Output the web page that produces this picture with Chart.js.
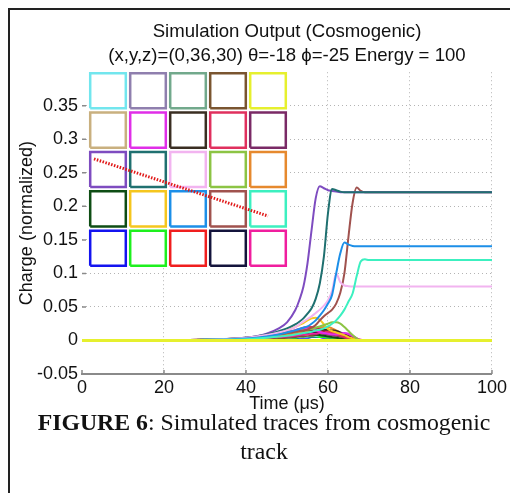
<!DOCTYPE html>
<html>
<head>
<meta charset="utf-8">
<script src="https://cdn.jsdelivr.net/npm/chart.js@4.4.1/dist/chart.umd.min.js"></script>
<style>
  html, body { margin: 0; padding: 0; background: #fff; }
  #page { position: relative; width: 510px; height: 493px; overflow: hidden; background: #fff; }
  #frame { position: absolute; left: 8px; top: 8px; right: -10px; bottom: -10px;
           border-left: 2px solid #222; border-top: 2px solid #222; }
  #main { position: absolute; left: 0; top: 0; }
  #inset { position: absolute; left: 88px; top: 71px; }
  #caption { position: absolute; left: 14px; width: 500px; top: 408px; text-align: center;
             font-family: 'Liberation Serif', 'Times New Roman', serif; font-size: 23.8px;
             line-height: 29px; color: #111; }
</style>
</head>
<body>
<div id="page">
  <div id="frame"></div>
  <canvas id="main" width="510" height="493"></canvas>
  <canvas id="inset" width="200" height="197"></canvas>
  <div id="caption"><b>FIGURE 6</b>: Simulated traces from cosmogenic<br>track</div>
</div>
<script>
// Sample times (µs) shared by every channel trace
const timeUs = [0, 15, 30, 40, 45, 48, 50, 52, 53, 54, 55, 56, 57, 58, 59, 60, 61, 62, 63, 64, 65, 66, 67, 68, 69, 70, 100];

// Normalized charge per channel; rows A..E of the 5x5 pad grid, columns 1..5
const chA1 = [0,0,0,0.001,0.002,0.003,0.004,0.005,0.005,0.006,0.006,0.007,0.007,0.008,0.008,0.007,0.007,0.006,0.005,0.004,0.003,0.002,0.001,0,0,0,0];
const chA2 = [0,0,0,0.002,0.004,0.006,0.007,0.008,0.009,0.010,0.010,0.010,0.009,0.008,0.007,0.006,0.005,0.004,0.003,0.002,0.001,0.001,0,0,0,0,0];
const chA3 = [0,0,0.001,0.002,0.004,0.006,0.007,0.008,0.009,0.010,0.011,0.011,0.012,0.012,0.011,0.010,0.009,0.008,0.006,0.005,0.003,0.002,0.001,0,0,0,0];
const chA4 = [0,0,0,0.001,0.002,0.003,0.004,0.005,0.006,0.006,0.007,0.007,0.008,0.008,0.008,0.007,0.006,0.005,0.004,0.003,0.002,0.001,0,0,0,0,0];
const chA5 = [0,0,0,0,0,0,0,0,0,0,0,0,0,0,0,0,0,0,0,0,0,0,0,0,0,0,0];
const chB1 = [0,0,0,0.002,0.003,0.005,0.006,0.007,0.008,0.009,0.009,0.010,0.010,0.009,0.009,0.008,0.007,0.006,0.005,0.004,0.003,0.002,0.001,0,0,0,0];
const chB2 = [0,0,0.001,0.003,0.006,0.009,0.012,0.015,0.017,0.018,0.018,0.017,0.015,0.013,0.011,0.010,0.009,0.009,0.010,0.011,0.010,0.007,0.003,0,0,0,0];
const chB3 = [0,0,0.001,0.004,0.007,0.010,0.012,0.014,0.015,0.015,0.016,0.016,0.016,0.016,0.016,0.016,0.015,0.014,0.012,0.009,0.006,0.003,0.001,0,0,0,0];
const chB4 = [0,0,0.001,0.003,0.006,0.009,0.012,0.015,0.017,0.019,0.020,0.020,0.019,0.017,0.015,0.013,0.011,0.009,0.007,0.005,0.003,0.002,0.001,0,0,0,0];
const chB5 = [0,0,0.001,0.002,0.004,0.006,0.008,0.009,0.010,0.011,0.011,0.012,0.012,0.011,0.010,0.009,0.008,0.007,0.006,0.004,0.003,0.002,0.001,0,0,0,0];
const chC1 = [0,0,0.001,0.004,0.010,0.018,0.027,0.045,0.060,0.080,0.115,0.165,0.212,0.230,0.227,0.224,0.223,0.222,0.221,0.221,0.221,0.221,0.221,0.221,0.221,0.221,0.221];
const chC2 = [0,0,0.001,0.004,0.009,0.014,0.018,0.024,0.028,0.033,0.040,0.048,0.062,0.085,0.125,0.190,0.226,0.224,0.222,0.221,0.221,0.221,0.221,0.221,0.221,0.221,0.221];
const chC3 = [0,0,0.001,0.004,0.008,0.012,0.015,0.020,0.024,0.028,0.032,0.036,0.041,0.046,0.052,0.060,0.074,0.100,0.087,0.082,0.081,0.0805,0.0805,0.0805,0.0805,0.0805,0.0805];
const chC4 = [0,0,0.001,0.003,0.006,0.009,0.011,0.013,0.014,0.015,0.016,0.017,0.019,0.021,0.023,0.025,0.027,0.027,0.025,0.020,0.014,0.008,0.003,0,0,0,0];
const chC5 = [0,0,0.001,0.002,0.004,0.006,0.008,0.010,0.011,0.012,0.013,0.015,0.017,0.019,0.020,0.020,0.018,0.015,0.011,0.008,0.005,0.003,0.001,0,0,0,0];
const chD1 = [0,0,0,0.002,0.003,0.005,0.006,0.007,0.008,0.009,0.010,0.010,0.009,0.008,0.007,0.006,0.005,0.004,0.003,0.002,0.001,0.001,0,0,0,0,0];
const chD2 = [0,0,0.001,0.003,0.007,0.011,0.015,0.020,0.023,0.026,0.030,0.033,0.034,0.031,0.024,0.017,0.014,0.012,0.010,0.008,0.005,0.003,0.001,0,0,0,0];
const chD3 = [0,0,0.001,0.003,0.006,0.009,0.012,0.015,0.017,0.019,0.021,0.025,0.030,0.037,0.045,0.055,0.068,0.100,0.130,0.146,0.143,0.141,0.1405,0.1405,0.1405,0.1405,0.1405];
const chD4 = [0,0,0.001,0.003,0.006,0.009,0.011,0.013,0.014,0.015,0.016,0.019,0.023,0.030,0.036,0.041,0.046,0.055,0.071,0.100,0.155,0.205,0.228,0.223,0.221,0.221,0.221];
const chD5 = [0,0,0.001,0.002,0.004,0.006,0.007,0.009,0.010,0.011,0.012,0.013,0.015,0.016,0.018,0.021,0.025,0.030,0.037,0.046,0.058,0.070,0.096,0.118,0.121,0.120,0.120];
const chE1 = [0,0,0,0.001,0.002,0.002,0.003,0.003,0.004,0.004,0.004,0.005,0.005,0.005,0.004,0.004,0.003,0.003,0.002,0.002,0.001,0.001,0,0,0,0,0];
const chE2 = [0,0,0,0.001,0.002,0.003,0.004,0.004,0.005,0.005,0.006,0.006,0.006,0.005,0.005,0.004,0.004,0.003,0.003,0.002,0.001,0.001,0,0,0,0,0];
const chE3 = [0,0,0.001,0.002,0.005,0.008,0.010,0.012,0.013,0.014,0.015,0.015,0.014,0.013,0.012,0.011,0.010,0.009,0.008,0.006,0.004,0.002,0.001,0,0,0,0];
const chE4 = [0,0,0.001,0.002,0.004,0.006,0.008,0.009,0.010,0.010,0.011,0.011,0.012,0.012,0.013,0.013,0.012,0.011,0.009,0.007,0.005,0.003,0.001,0,0,0,0];
const chE5 = [0,0,0.001,0.002,0.004,0.005,0.006,0.007,0.008,0.009,0.009,0.010,0.010,0.011,0.011,0.012,0.012,0.012,0.011,0.010,0.008,0.006,0.003,0.001,0,0,0];

const channelSeries = [chA1, chA2, chA3, chA4, chA5, chB1, chB2, chB3, chB4, chB5,
                       chC1, chC2, chC3, chC4, chC5, chD1, chD2, chD3, chD4, chD5,
                       chE1, chE2, chE3, chE4, chE5];

// One colour per pad, row-major (top row first); traces use the same colour as their pad
const channelColors = [
  '#72e6ee', '#8f7fae', '#72a98c', '#7a5530', '#e6f02e',
  '#c9b07f', '#e02ee8', '#3a2e22', '#e0305e', '#7a2a66',
  '#7e4cc0', '#1f7070', '#f2b4f0', '#8cc444', '#e6892e',
  '#0e4d14', '#f5c61e', '#1c8fe8', '#a0524e', '#3cf0c0',
  '#1414f0', '#1ef01e', '#f01e1e', '#14143c', '#f01e9e'
];

// Painting sequence of the channels (later ones end up on top)
const drawOrder = [20, 21, 0, 1, 2, 3, 5, 15, 9, 23, 22, 24, 14, 8, 7, 6, 16, 13, 18, 10, 11, 12, 17, 19, 4];

const xTickValues = [0, 20, 40, 60, 80, 100];
const xTickLabels = ['0', '20', '40', '60', '80', '100'];
const yTickValues = [-0.05, 0, 0.05, 0.1, 0.15, 0.2, 0.25, 0.3, 0.35];
const yTickLabels = ['-0.05', '0', '0.05', '0.1', '0.15', '0.2', '0.25', '0.3', '0.35'];

// Particle track across the pad plane, in pad units (x right, y up)
const trackX = [0.15, 4.5];
const trackY = [2.77, 1.32];

const padRows = 5;
const padCols = 5;

Chart.defaults.font.family = "'Liberation Sans', Arial, Helvetica, sans-serif";
Chart.defaults.color = '#111';

const gridColor = '#b4b4b4';

const labelFor = (values, labels, v) => {
  const i = values.findIndex(t => Math.abs(t - v) < 1e-9);
  return i >= 0 ? labels[i] : '';
};

// Short tick marks pointing into the plot area
const inwardTicks = {
  id: 'inwardTicks',
  beforeDatasetsDraw(chart) {
    const { ctx, chartArea: a, scales: { x, y } } = chart;
    ctx.save();
    ctx.strokeStyle = '#8a8a8a';
    ctx.lineWidth = 1.5;
    ctx.beginPath();
    y.ticks.forEach(t => {
      const py = y.getPixelForValue(t.value);
      ctx.moveTo(a.left, py);
      ctx.lineTo(a.left + 4, py);
    });
    x.ticks.forEach(t => {
      const px = x.getPixelForValue(t.value);
      ctx.moveTo(px, a.bottom);
      ctx.lineTo(px, a.bottom - 4);
    });
    ctx.stroke();
    ctx.restore();
  }
};

const traceSets = drawOrder.map((ch, k) => ({
  label: 'Channel ' + (ch + 1),
  data: timeUs.map((t, i) => ({ x: t, y: channelSeries[ch][i] })),
  borderColor: channelColors[ch],
  backgroundColor: channelColors[ch],
  borderWidth: ch === 4 ? 3 : 2,
  pointRadius: 0,
  fill: false,
  cubicInterpolationMode: 'monotone',
  order: drawOrder.length - k
}));

new Chart(document.getElementById('main'), {
  type: 'line',
  data: { datasets: traceSets },
  options: {
    responsive: false,
    animation: false,
    devicePixelRatio: 1,
    layout: { padding: { left: 0, right: 13, top: 0, bottom: 78 } },
    plugins: {
      legend: { display: false },
      tooltip: { enabled: false },
      title: {
        display: true,
        fullSize: false,
        text: ['Simulation Output (Cosmogenic)', '(x,y,z)=(0,36,30) \u03B8=-18 \u03D5=-25 Energy = 100'],
        color: '#111',
        font: { size: 18.6, weight: 'normal', lineHeight: 1.27 },
        padding: { top: 20, bottom: 5 }
      }
    },
    scales: {
      x: {
        type: 'linear',
        min: 0,
        max: 100,
        afterBuildTicks: s => { s.ticks = xTickValues.map(v => ({ value: v })); },
        afterFit: s => { s.height = 41; },
        ticks: {
          callback: v => labelFor(xTickValues, xTickLabels, v),
          font: { size: 18 },
          color: '#111',
          padding: 3,
          maxRotation: 0,
          autoSkip: false
        },
        grid: {
          drawTicks: false,
          lineWidth: 1,
          color: c => (c.tick && c.tick.value === 0) ? 'rgba(0,0,0,0)' : gridColor
        },
        border: { display: true, color: '#8a8a8a', width: 2, dash: [1, 3] },
        title: { display: true, text: 'Time (\u03BCs)', font: { size: 18 }, color: '#111', padding: { top: 0, bottom: 0 } }
      },
      y: {
        type: 'linear',
        min: -0.05,
        max: 0.4,
        afterBuildTicks: s => { s.ticks = yTickValues.map(v => ({ value: v })); },
        afterFit: s => { s.width = 82; },
        ticks: {
          callback: v => labelFor(yTickValues, yTickLabels, v),
          font: { size: 18 },
          color: '#111',
          padding: 4,
          autoSkip: false
        },
        grid: { drawTicks: false, lineWidth: 1, color: gridColor },
        border: { display: false, dash: [1, 3] },
        title: { display: true, text: 'Charge (normalized)', font: { size: 18 }, color: '#111', padding: { top: 16, bottom: 0 } }
      }
    }
  },
  plugins: [inwardTicks]
});

// Pad map: each pad outlined in its channel colour, track drawn across it
const whiteBackground = {
  id: 'whiteBackground',
  beforeDraw(chart) {
    const { ctx, width, height } = chart;
    ctx.save();
    ctx.fillStyle = '#fff';
    ctx.fillRect(0, 0, width, height);
    ctx.restore();
  }
};

const inset = 0.055;
const padSets = [];
for (let r = 0; r < padRows; r++) {
  for (let c = 0; c < padCols; c++) {
    const ch = r * padCols + c;
    const x0 = c + inset, x1 = c + 1 - inset;
    const y1 = padRows - r - inset, y0 = padRows - r - 1 + inset;
    padSets.push({
      label: 'Pad ' + (ch + 1),
      data: [{ x: x0, y: y0 }, { x: x1, y: y0 }, { x: x1, y: y1 }, { x: x0, y: y1 }, { x: x0, y: y0 }],
      showLine: true,
      borderColor: channelColors[ch],
      borderWidth: 2.5,
      borderJoinStyle: 'miter',
      pointRadius: 0,
      fill: false,
      tension: 0,
      order: 1
    });
  }
}
padSets.push({
  label: 'Track',
  data: trackX.map((x, i) => ({ x, y: trackY[i] })),
  showLine: true,
  borderColor: '#e01818',
  borderWidth: 3,
  borderDash: [1.5, 1.5],
  pointRadius: 0,
  fill: false,
  order: 0
});

new Chart(document.getElementById('inset'), {
  type: 'scatter',
  data: { datasets: padSets },
  options: {
    responsive: false,
    animation: false,
    devicePixelRatio: 1,
    layout: { padding: 0 },
    plugins: { legend: { display: false }, tooltip: { enabled: false }, title: { display: false } },
    scales: {
      x: { type: 'linear', min: 0, max: padCols, display: false },
      y: { type: 'linear', min: 0, max: padRows, display: false }
    }
  },
  plugins: [whiteBackground]
});
</script>
</body>
</html>
